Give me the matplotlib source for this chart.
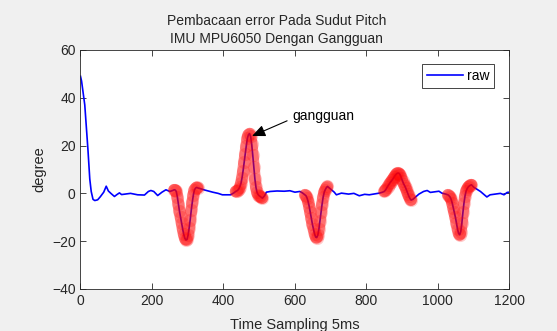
import matplotlib
matplotlib.use("Agg")
import matplotlib.pyplot as plt
import numpy as np

# blue signal outside the disturbances (sample, degree)
base_x = [0, 3, 12, 21, 26, 30, 35, 40, 48, 55, 65, 72, 78, 85, 95, 102, 109, 115, 125, 140,
          160, 179, 190, 197, 205, 216, 228, 239, 250, 258]
base_y = [49, 47, 37, 18, 6, 0.8, -2.5, -3, -2.7, -1.5, 0.5, 3, 1, 0, -1.3, -0.5, 0.2, -0.5, -0.3, 0,
          -0.6, -0.7, 0.8, 1.2, 0.8, -0.9, 0.5, 1.5, 0.8, 1.2]

gap1_x = [335, 345, 355, 370, 385, 397, 420, 430]
gap1_y = [2, 1.5, 1.1, 0.5, 0, -0.6, -0.6, 0.3]
gap2_x = [515, 520, 531, 550, 570, 586, 600, 614, 622]
gap2_y = [-1, 0.5, 0.8, 1, 0.9, 1.1, 0.5, 0.8, 0.1]
gap3_x = [702, 710, 716, 730, 750, 765, 780, 795, 808, 820, 836, 845]
gap3_y = [1.5, 0.5, -0.6, 0.1, -0.3, 0, -1, -0.4, -0.6, -0.3, 0.1, 0.5]
gap4_x = [930, 947, 960, 970, 979, 1003, 1011, 1022]
gap4_y = [-2.5, -0.3, 0.8, 1.2, 0.4, 0.9, 0.1, -0.3]
gap5_x = [1100, 1119, 1137, 1146, 1160, 1175, 1185, 1194, 1200]
gap5_y = [2.6, 0.8, -1.5, -0.6, -0.3, 0, -0.6, 0.4, 0.5]

# disturbance segments ("gangguan"), marked in red
ev1_x = list(range(262, 329, 3))
ev1_y = [1.5, 1.4, 0.8, -1.5, -4.5, -7.5, -10, -12.5, -15, -17.2, -18.8, -19.5, -19.3, -17.5,
         -14.5, -11, -7, -3.5, -0.5, 1.5, 2.2, 2.5, 2.3]
ev2_x = list(range(434, 510, 3))
ev2_y = [0.8, 1.0, 1.3, 1.9, 2.8, 4.2, 6.5, 9.5, 13, 16.5, 20, 23, 24.6, 25, 23.8, 20.5, 16,
         11, 6, 2.5, 0.4, -0.5, -1.0, -1.3, -1.7, -2.0]
ev3_x = list(range(628, 692, 3))
ev3_y = [-0.6, -1, -2, -3.5, -5.5, -8, -10.5, -13, -15, -17, -18.3, -18.5, -17.5, -15, -11.5,
         -8, -4.5, -1.5, 0.5, 1.6, 2.4, 2.9]
ev4_x = list(range(850, 926, 3))
ev4_y = [0.8, 1.3, 2, 2.8, 3.5, 4.2, 4.8, 5.4, 6, 6.7, 7.4, 8, 8.4, 8.5, 8.3, 7.5, 6.3, 5, 4,
         3.2, 2.2, 1, -0.2, -1.3, -2.2, -2.8]
ev5_x = list(range(1028, 1095, 3))
ev5_y = [-0.6, -1, -1.5, -2.5, -4, -6, -8, -10, -12.5, -15, -16.8, -17.3, -16, -12.5, -8, -4,
         -1, 1, 2, 2.7, 3.1, 3.4, 3.6]

events = [(ev1_x, ev1_y), (ev2_x, ev2_y), (ev3_x, ev3_y), (ev4_x, ev4_y), (ev5_x, ev5_y)]

x = base_x + ev1_x + gap1_x + ev2_x + gap2_x + ev3_x + gap3_x + ev4_x + gap4_x + ev5_x + gap5_x
y = base_y + ev1_y + gap1_y + ev2_y + gap2_y + ev3_y + gap3_y + ev4_y + gap4_y + ev5_y + gap5_y

plt.rcParams['font.family'] = ['Liberation Sans', 'DejaVu Sans']
fig = plt.figure(figsize=(5.57, 3.31), dpi=100, facecolor='#f0f0f0')
ax = fig.add_axes([0.1445, 0.127, 0.770, 0.722])

ax.plot(x, y, color='#0000ff', lw=1.2, label='raw')
for ex, ey in events:
    ax.plot(ex, ey, '-', color='red', lw=8.5, alpha=0.45, solid_capstyle='round', solid_joinstyle='round')
    ax.plot(ex, ey, 'o', color='red', ms=9.5, mec='none', alpha=0.2)

ax.annotate('gangguan', xy=(480, 24), xytext=(593, 32.5), fontsize=10, ha='left', va='center',
            arrowprops=dict(arrowstyle='-|>,head_length=0.8,head_width=0.35', color='black',
                            lw=0.8, shrinkA=2, shrinkB=0, relpos=(0, 0.3)))

ax.set_xlim(0, 1200)
ax.set_ylim(-40, 60)
ax.set_xticks(np.arange(0, 1201, 200))
ax.set_yticks(np.arange(-40, 61, 20))
ax.tick_params(direction='in', top=True, right=True, labelsize=10, colors='#262626', length=4, width=0.6)
for s in ax.spines.values():
    s.set_color('#262626')
    s.set_linewidth(0.6)

ax.set_title('Pembacaan error Pada Sudut Pitch\nIMU MPU6050 Dengan Gangguan', fontsize=10,
             color='#262626', pad=5, linespacing=1.35, x=0.458)
ax.set_xlabel('Time Sampling 5ms', fontsize=10.5, color='#262626', labelpad=7)
ax.set_ylabel('degree', fontsize=10.5, color='#262626', labelpad=4)

leg = ax.legend(loc='upper right', bbox_to_anchor=(0.965, 0.94), fontsize=10, handlelength=2.6,
                handletextpad=0.3, borderpad=0.35, fancybox=False, framealpha=1, borderaxespad=0)
leg.get_frame().set_edgecolor('#262626')
leg.get_frame().set_linewidth(0.6)

fig.savefig('out.png', dpi=100, facecolor=fig.get_facecolor())
